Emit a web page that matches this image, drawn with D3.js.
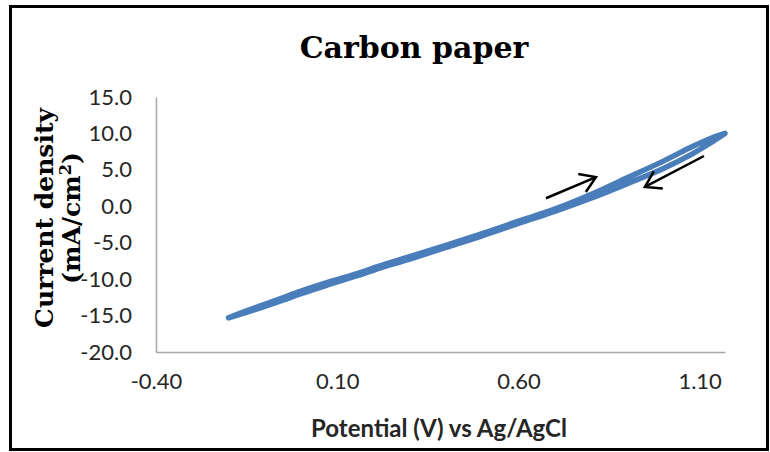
<!DOCTYPE html>
<html>
	<head>
		<meta charset="utf-8">
		<script src="https://d3js.org/d3.v7.min.js"></script>
	</head>
	<body style="margin:0;background:#fff">
		<svg id="chart" width="770" height="452"></svg>
	</body>
	<script>
	// potentials (V vs Ag/AgCl) of the sweep
	var potentials = [-0.20, -0.15, -0.10, -0.05, 0.00, 0.08, 0.15, 0.22, 0.30, 0.40,
		0.50, 0.60, 0.70, 0.80, 0.90, 1.00, 1.08, 1.13, 1.17];
	// anodic (forward) sweep, mA/cm2
	var forwardCurrent = [-15.3, -14.35, -13.45, -12.55, -11.65, -10.35, -9.3, -8.15, -6.9, -5.35,
		-3.75, -2.05, -0.4, 1.6, 3.9, 6.2, 8.2, 9.3, 10.0];
	// cathodic (reverse) sweep, same potentials, mA/cm2
	var reverseCurrent = [-15.3, -14.55, -13.75, -12.9, -12.0, -10.7, -9.6, -8.45, -7.25, -5.65,
		-4.05, -2.35, -0.7, 1.1, 3.1, 5.2, 7.2, 8.7, 10.0];

	var xTicks = [-0.4, 0.1, 0.6, 1.1];
	var yTicks = [-20, -15, -10, -5, 0, 5, 10, 15];

	// sweep direction arrows [fromV, fromI, toV, toI]
	var arrows = [
		[0.676, 1.1, 0.814, 4.0],
		[1.112, 6.9, 0.949, 2.65]
	];

	var svg = d3.select("#chart");

	// outer frame
	svg.append("rect")
		.attr("x", 10.5).attr("y", 6.5)
		.attr("width", 757).attr("height", 443)
		.style("fill", "none")
		.style("stroke", "#000")
		.style("stroke-width", 3);

	var x = d3.scaleLinear().domain([-0.4, 1.17]).range([156, 725]);
	var y = d3.scaleLinear().domain([-20, 15]).range([352, 97]);

	function fmt(p) {
		var f = d3.format(p);
		return function(d){ return f(d).replace("\u2212", "-") };
	}

	// axes
	var xAxis = svg.append("g")
		.attr("transform", "translate(0," + y(-20) + ")")
		.call(d3.axisBottom(x).tickValues(xTicks).tickSize(0).tickPadding(21)
			.tickFormat(fmt(".2f")));
	var yAxis = svg.append("g")
		.attr("transform", "translate(" + x(-0.4) + ",0)")
		.call(d3.axisLeft(y).tickValues(yTicks).tickSize(0).tickPadding(24)
			.tickFormat(fmt(".1f")));

	[xAxis, yAxis].forEach(function(a){
		a.select(".domain").style("stroke", "#a6a6a6").style("stroke-width", 1.5);
		a.selectAll("text")
			.style("font-family", "Lato, 'Open Sans', sans-serif")
			.style("font-size", "22px")
			.style("fill", "#262626");
	});

	// CV loop: forward then back
	var loop = potentials.map(function(v, i){ return [v, forwardCurrent[i]] })
		.concat(potentials.map(function(v, i){ return [v, reverseCurrent[i]] }).reverse());

	svg.append("path")
		.datum(loop)
		.attr("d", d3.line()
			.x(function(d){ return x(d[0]) })
			.y(function(d){ return y(d[1]) })
			.curve(d3.curveCatmullRom))
		.style("fill", "none")
		.style("stroke", "#4a7ebb")
		.style("stroke-width", 5.5)
		.style("stroke-linejoin", "round")
		.style("stroke-linecap", "round");

	// arrows
	arrows.forEach(function(a){
		var x1 = x(a[0]), y1 = y(a[1]), x2 = x(a[2]), y2 = y(a[3]);
		var ang = Math.atan2(y2 - y1, x2 - x1), len = 18, spread = Math.PI / 5.5;
		var p = d3.path();
		p.moveTo(x1, y1); p.lineTo(x2, y2);
		p.moveTo(x2 - len * Math.cos(ang - spread), y2 - len * Math.sin(ang - spread));
		p.lineTo(x2, y2);
		p.lineTo(x2 - len * Math.cos(ang + spread), y2 - len * Math.sin(ang + spread));
		svg.append("path")
			.attr("d", p.toString())
			.style("fill", "none")
			.style("stroke", "#000")
			.style("stroke-width", 2.5);
	});

	// titles
	svg.append("text")
		.attr("x", 414).attr("y", 58)
		.attr("text-anchor", "middle")
		.style("font-family", "'DejaVu Serif', serif")
		.style("font-weight", "bold")
		.style("font-size", "30px")
		.text("Carbon paper");

	svg.append("text")
		.attr("x", 439).attr("y", 437)
		.attr("text-anchor", "middle")
		.style("font-family", "Lato, 'Open Sans', sans-serif")
		.style("font-weight", "bold")
		.style("font-size", "24px")
		.style("fill", "#262626")
		.text("Potential (V) vs Ag/AgCl");

	var yt = svg.append("text")
		.attr("transform", "translate(53,218) rotate(-90)")
		.attr("text-anchor", "middle")
		.style("font-family", "'DejaVu Serif', serif")
		.style("font-weight", "bold")
		.style("font-size", "25px");
	yt.append("tspan").attr("x", 0).attr("y", 0).text("Current density");
	var unit = yt.append("tspan").attr("x", 0).attr("dy", 27);
	unit.append("tspan").text("(mA/cm");
	unit.append("tspan").attr("dy", -9).style("font-size", "16px").text("2");
	unit.append("tspan").attr("dy", 9).text(")");
	</script>
</html>
